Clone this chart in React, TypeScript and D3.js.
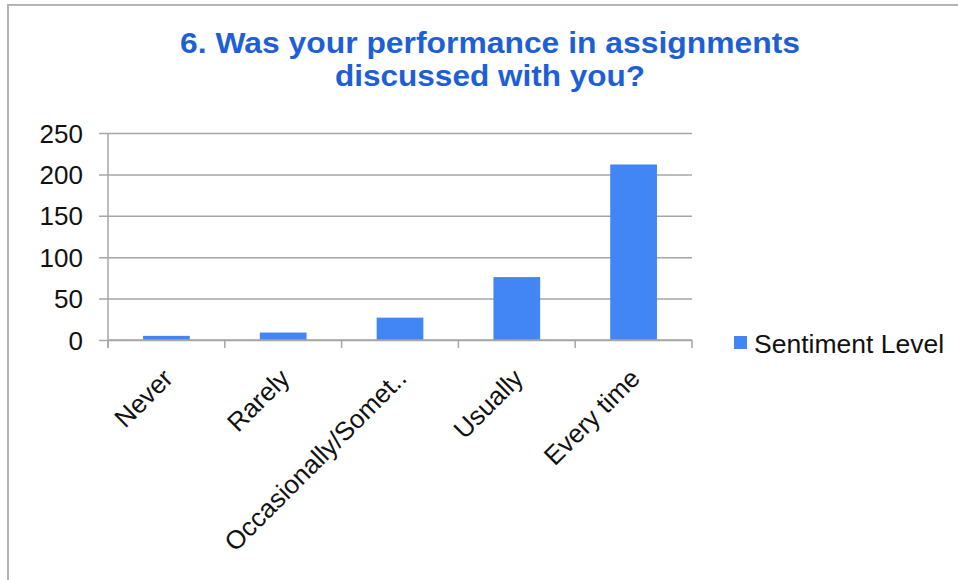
import React, { useEffect, useRef } from "react";
import * as d3 from "d3";

const categories = ["Never", "Rarely", "Occasionally/Somet..", "Usually", "Every time"];
const sentimentLevel = [5, 9, 27, 76, 212];
const yTicks = [0, 50, 100, 150, 200, 250];
const seriesName = "Sentiment Level";
const titleLines = ["6. Was your performance in assignments", "discussed with you?"];
const titleWidths = [620, 310];

const WIDTH = 958;
const HEIGHT = 580;
const FONT = "'Liberation Sans', Arial, sans-serif";

export default function App() {
  const svgRef = useRef<SVGSVGElement>(null);

  useEffect(() => {
    if (!svgRef.current) return;
    const svg = d3.select(svgRef.current);
    svg.selectAll("*").remove();

    const margin = { top: 133, left: 108, right: 692, bottom: 340 };

    // chart frame (right and bottom edges fall off the picture)
    svg.append("rect")
      .attr("x", 8)
      .attr("y", 5)
      .attr("width", WIDTH + 20)
      .attr("height", HEIGHT + 20)
      .attr("fill", "#fff")
      .attr("stroke", "#b4b4b4")
      .attr("stroke-width", 2);

    // title: two lines, glyphs a little wide like the original
    titleLines.forEach((line, i) => {
      svg.append("text")
        .attr("x", 490)
        .attr("y", 53 + i * 33)
        .attr("text-anchor", "middle")
        .attr("font-family", FONT)
        .attr("font-size", 29)
        .attr("font-weight", "bold")
        .attr("fill", "#1d5fd6")
        .attr("textLength", titleWidths[i])
        .attr("lengthAdjust", "spacingAndGlyphs")
        .text(line);
    });

    const x = d3.scaleBand<string>()
      .domain(categories)
      .range([margin.left, margin.right])
      .padding(0);

    const y = d3.scaleLinear()
      .domain([0, 250])
      .range([margin.bottom, margin.top]);

    // gridlines + y ticks
    const yAxis = svg.append("g")
      .attr("transform", `translate(${margin.left},0)`)
      .call(
        d3.axisLeft(y)
          .tickValues(yTicks)
          .tickSize(-(margin.right - margin.left))
          .tickSizeOuter(0)
          .tickPadding(0)
      );
    yAxis.select(".domain").remove();
    yAxis.selectAll(".tick line")
      .attr("x1", -9)
      .attr("stroke", "#a6a6a6")
      .attr("stroke-width", 1.5);
    yAxis.selectAll(".tick text")
      .attr("x", -25)
      .attr("dy", "0.35em")
      .attr("font-family", FONT)
      .attr("font-size", 26)
      .attr("fill", "#111");

    svg.append("line")
      .attr("x1", margin.left)
      .attr("x2", margin.left)
      .attr("y1", margin.top)
      .attr("y2", margin.bottom + 8)
      .attr("stroke", "#a6a6a6")
      .attr("stroke-width", 1.5);

    // bars
    const barW = x.bandwidth() * 0.4;
    svg.append("g")
      .selectAll("rect")
      .data(categories)
      .join("rect")
      .attr("x", (d) => (x(d) || 0) + (x.bandwidth() - barW) / 2)
      .attr("y", (_, i) => y(sentimentLevel[i]))
      .attr("width", barW)
      .attr("height", (_, i) => y(0) - y(sentimentLevel[i]))
      .attr("fill", "#4285f4");

    // x axis
    svg.append("line")
      .attr("x1", margin.left)
      .attr("x2", margin.right)
      .attr("y1", margin.bottom)
      .attr("y2", margin.bottom)
      .attr("stroke", "#a6a6a6")
      .attr("stroke-width", 1.5);
    const boundaries = categories.map((c) => x(c) || 0).concat([margin.right]);
    svg.append("g")
      .selectAll("line")
      .data(boundaries)
      .join("line")
      .attr("x1", (d) => d)
      .attr("x2", (d) => d)
      .attr("y1", margin.bottom)
      .attr("y2", margin.bottom + 8)
      .attr("stroke", "#a6a6a6")
      .attr("stroke-width", 1.5);

    svg.append("g")
      .selectAll("text")
      .data(categories)
      .join("text")
      .attr("transform", (d) => {
        const cx = (x(d) || 0) + x.bandwidth() / 2;
        return `translate(${cx + 8},${margin.bottom + 40}) rotate(-45)`;
      })
      .attr("text-anchor", "end")
      .attr("font-family", FONT)
      .attr("font-size", 26)
      .attr("fill", "#111")
      .text((d) => d);

    // legend
    svg.append("rect")
      .attr("x", 734)
      .attr("y", 336)
      .attr("width", 13)
      .attr("height", 13)
      .attr("fill", "#4285f4");
    svg.append("text")
      .attr("x", 754)
      .attr("y", 353)
      .attr("font-family", FONT)
      .attr("font-size", 26.5)
      .attr("fill", "#111")
      .text(seriesName);
  }, []);

  return (
    <div style={{ position: "absolute", left: 0, top: 0 }}>
      <svg ref={svgRef} width={WIDTH} height={HEIGHT} style={{ display: "block" }} />
    </div>
  );
}
